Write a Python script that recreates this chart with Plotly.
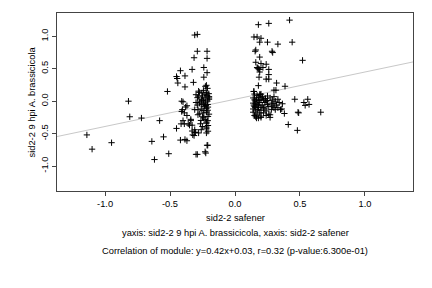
import plotly.graph_objects as go

# Scatter data (x: sid2-2 safener, y: sid2-2 9 hpi A. brassicicola)
left_sparse_x = [-1.14, -1.10, -0.95, -0.82, -0.81, -0.72, -0.64, -0.62, -0.58, -0.55, -0.52, -0.51]
left_sparse_y = [-0.52, -0.74, -0.64, 0.00, -0.24, -0.26, -0.62, -0.90, -0.30, -0.55, 0.15, -0.81]

left_mid_x = [-0.31, -0.29, -0.29, -0.215, -0.315, -0.215, -0.42, -0.33, -0.24, -0.215,
              -0.45, -0.445, -0.385, -0.44, -0.385, -0.32, -0.24, -0.41, -0.40, -0.38,
              -0.37, -0.31, -0.41, -0.37, -0.40, -0.39, -0.34, -0.33, -0.45, -0.415,
              -0.35, -0.31, -0.31, -0.325, -0.315, -0.42, -0.385, -0.37, -0.215, -0.29,
              -0.23, -0.225, -0.405, -0.39, -0.36, -0.34, -0.33, -0.305, -0.28, -0.26,
              -0.22, -0.22, -0.22, -0.21, -0.30]
left_mid_y = [1.02, 1.03, 0.77, 0.77, 0.67, 0.66, 0.47, 0.49, 0.52, 0.44,
              0.38, 0.35, 0.39, 0.28, 0.22, 0.29, 0.37, 0.00, -0.01, -0.09,
              -0.07, -0.13, -0.16, -0.22, -0.30, -0.18, -0.28, -0.37, -0.42, -0.35,
              -0.37, -0.44, -0.48, -0.52, -0.53, -0.60, -0.59, -0.61, -0.68, -0.82,
              -0.78, -0.80, -0.13, -0.35, -0.35, -0.30, -0.46, -0.48, -0.49, -0.44,
              -0.34, -0.40, -0.49, -0.68, -0.82]

left_dense_x = [-0.228, -0.212, -0.243, -0.22, -0.202, -0.274, -0.289, -0.258, -0.243, -0.228,
                -0.212, -0.272, -0.256, -0.225, -0.208, -0.285, -0.246, -0.22, -0.272, -0.208,
                -0.241, -0.262, -0.22, -0.208, -0.251, -0.22, -0.208, -0.266, -0.285, -0.22,
                -0.24, -0.21, -0.23, -0.25, -0.20, -0.22, -0.26, -0.21, -0.24, -0.20,
                -0.23, -0.21, -0.25, -0.20, -0.215, -0.235, -0.27, -0.29, -0.30, -0.28,
                -0.30, -0.255, -0.23, -0.20, -0.28]
left_dense_y = [0.229, 0.198, 0.167, 0.136, 0.116, 0.136, 0.054, 0.023, 0.012, -0.014,
                0.002, -0.029, -0.05, -0.065, -0.091, -0.132, -0.142, -0.169, -0.194, -0.235,
                -0.256, -0.297, -0.323, -0.375, -0.39, -0.426, -0.463, -0.348, -0.209, 0.245,
                -0.03, -0.05, 0.05, 0.08, 0.03, -0.11, -0.12, -0.14, -0.18, -0.20,
                -0.28, -0.30, -0.24, 0.07, 0.09, -0.08, 0.00, -0.06, -0.02, 0.08,
                0.10, 0.125, 0.10, 0.05, 0.155]

right_top_x = [0.18, 0.26, 0.42, 0.146, 0.17, 0.20, 0.19, 0.25, 0.33, 0.44,
               0.155, 0.16, 0.285, 0.29, 0.19, 0.52, 0.16, 0.20, 0.24, 0.17,
               0.19, 0.215, 0.26, 0.26, 0.19, 0.185, 0.24, 0.26, 0.32, 0.385,
               0.18, 0.315, 0.30, 0.146, 0.19, 0.20, 0.30, 0.18, 0.175]
right_top_y = [1.18, 1.20, 1.25, 0.99, 0.99, 0.97, 0.91, 0.91, 0.88, 0.91,
               0.77, 0.79, 0.77, 0.75, 0.68, 0.63, 0.60, 0.58, 0.57, 0.52,
               0.49, 0.52, 0.49, 0.41, 0.45, 0.37, 0.34, 0.34, 0.28, 0.23,
               0.24, 0.17, 0.17, 0.15, 0.105, 0.11, 0.07, 0.50, 0.51]

right_out_x = [0.46, 0.56, 0.53, 0.54, 0.57, 0.485, 0.66, 0.38, 0.41, 0.48,
               0.365, 0.36, 0.49, 0.31, 0.29, 0.27, 0.27, 0.18, 0.20, 0.165]
right_out_y = [0.03, 0.03, -0.02, -0.065, -0.05, -0.17, -0.17, -0.19, -0.36, -0.45,
               -0.04, -0.12, -0.18, -0.13, -0.075, -0.21, -0.25, -0.26, -0.25, -0.26]

right_dense_x = [0.14, 0.15, 0.16, 0.14, 0.17, 0.15, 0.18, 0.14, 0.16, 0.19,
                 0.20, 0.21, 0.22, 0.18, 0.17, 0.15, 0.20, 0.23, 0.24, 0.25,
                 0.26, 0.23, 0.19, 0.17, 0.15, 0.14, 0.16, 0.18, 0.20, 0.145,
                 0.155, 0.165, 0.175, 0.185, 0.21, 0.22, 0.24, 0.26, 0.28, 0.29,
                 0.30, 0.32, 0.33, 0.31, 0.34, 0.27, 0.25, 0.28, 0.30, 0.22,
                 0.24, 0.16, 0.20, 0.33, 0.35, 0.144, 0.195, 0.21, 0.235, 0.25]
right_dense_y = [0.05, 0.02, 0.00, -0.03, -0.05, -0.08, -0.10, -0.12, -0.15, -0.02,
                 0.03, -0.06, -0.10, 0.06, 0.09, 0.11, -0.14, -0.02, 0.00, -0.05,
                 -0.08, -0.12, -0.18, -0.20, -0.22, -0.17, -0.04, -0.07, -0.09, -0.06,
                 -0.10, 0.03, -0.13, 0.01, 0.05, 0.02, -0.15, -0.20, -0.03, 0.02,
                 -0.04, -0.06, -0.10, 0.00, -0.02, 0.05, 0.08, -0.13, -0.10, -0.18,
                 -0.22, -0.24, -0.23, 0.03, -0.13, 0.15, 0.10, 0.075, 0.04, 0.01]

xs = left_sparse_x + left_mid_x + left_dense_x + right_top_x + right_out_x + right_dense_x
ys = left_sparse_y + left_mid_y + left_dense_y + right_top_y + right_out_y + right_dense_y

# regression
slope = 0.42
intercept = 0.03
x_range = [-1.37, 1.37]
y_range = [-1.385, 1.36]
x_ticks = [-1.0, -0.5, 0.0, 0.5, 1.0]
y_ticks = [-1.0, -0.5, 0.0, 0.5, 1.0]

x_title = "sid2-2 safener"
y_title = "sid2-2 9 hpi A. brassicicola"
line1 = "yaxis: sid2-2 9 hpi A. brassicicola, xaxis: sid2-2 safener"
line2 = "Correlation of module: y=0.42x+0.03, r=0.32 (p-value:6.300e-01)"

FONT = "Liberation Sans, Arial, sans-serif"
FS = 9.3

fig = go.Figure()
fig.add_trace(go.Scatter(
    x=x_range, y=[slope * v + intercept for v in x_range],
    mode="lines", line=dict(color="#c8c8c8", width=1), hoverinfo="skip"))
fig.add_trace(go.Scatter(
    x=xs, y=ys, mode="markers",
    marker=dict(symbol="cross-thin", size=4.5, color="black",
                line=dict(color="black", width=1))))

fig.update_layout(
    width=432, height=288,
    margin=dict(l=57, r=19, t=13, b=97),
    paper_bgcolor="white", plot_bgcolor="white",
    showlegend=False,
    font=dict(family=FONT, size=FS, color="black"),
    xaxis=dict(range=x_range, tickvals=x_ticks, ticktext=[f"{v:.1f}" for v in x_ticks],
               showgrid=False, zeroline=False, showline=True, mirror=True,
               linecolor="#444", linewidth=1, ticks="outside", ticklen=4,
               tickcolor="#444", tickfont=dict(size=FS)),
    yaxis=dict(range=y_range, tickvals=y_ticks, ticktext=[f"{v:.1f}" for v in y_ticks],
               showgrid=False, zeroline=False, showline=True, mirror=True,
               linecolor="#444", linewidth=1, ticks="outside", ticklen=4,
               tickcolor="#444", tickangle=-90, tickfont=dict(size=FS)),
    annotations=[
        dict(text=x_title, xref="paper", yref="paper", x=0.5, y=-0.149,
             showarrow=False, xanchor="center", yanchor="middle", font=dict(size=FS)),
        dict(text=line1, xref="paper", yref="paper", x=0.5, y=-0.237,
             showarrow=False, xanchor="center", yanchor="middle", font=dict(size=FS)),
        dict(text=line2, xref="paper", yref="paper", x=0.5, y=-0.337,
             showarrow=False, xanchor="center", yanchor="middle", font=dict(size=FS)),
        dict(text=y_title, xref="paper", yref="paper", x=-0.069, y=0.5, textangle=-90,
             showarrow=False, xanchor="center", yanchor="middle", font=dict(size=FS)),
    ],
)

fig.write_html("out.html")
